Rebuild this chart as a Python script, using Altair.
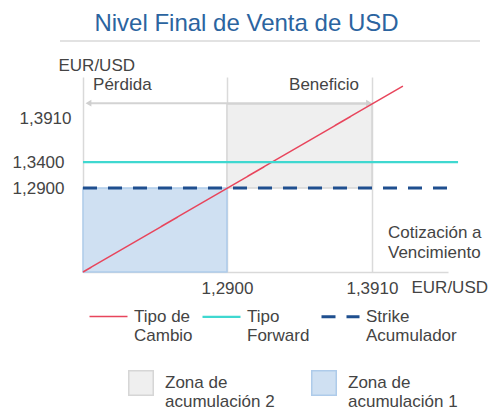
import altair as alt
import pandas as pd

FONT = "Liberation Sans"
TXT = "#444444"

# --- series (lines) ---
serie_nombres = ["Tipo de\nCambio", "Tipo\nForward", "Strike\nAcumulador"]
serie_colores = ["#e8455c", "#3fd8d0", "#1f4f8f"]
serie_dash = [[1, 0], [1, 0], [14, 11]]
serie_ancho = [1.5, 3, 3]
cambio_x = [1.1897, 1.4126]
cambio_y = [1.1897, 1.4126]
forward_x = [1.1897, 1.451]
forward_y = [1.34, 1.34]
strike_x = [1.1897, 1.4475]
strike_y = [1.29, 1.29]

# --- zones ---
zona_nombres = ["Zona de\nacumulación 2", "Zona de\nacumulación 1"]
zona_colores = ["#efefef", "#cfe0f2"]
zona_bordes = ["#d6d6d6", "#aecbea"]
zona_x = [1.29, 1.1897]
zona_x2 = [1.391, 1.29]
zona_y = [1.29, 1.1897]
zona_y2 = [1.391, 1.29]

# --- ticks ---
ticks_x = [1.29, 1.391]
ticks_y = [1.29, 1.34, 1.391]

# --- annotations ---
flecha_x = [1.1935, 1.389]
flecha_y = [1.392, 1.392]
flecha_forma = ["triangle-left", "triangle-right"]
perdida_texto = ["Pérdida"]
perdida_x = [1.1967]
perdida_y = [1.4139]
beneficio_texto = ["Beneficio"]
beneficio_x = [1.3820]
beneficio_y = [1.4139]
cotiz_texto = ["Cotización a\nVencimiento"]
cotiz_x = [1.4022]
cotiz_y = [1.2458]

lines_rows = []
for nombre, xs, ys in zip(serie_nombres, [cambio_x, forward_x, strike_x], [cambio_y, forward_y, strike_y]):
    for i, (xv, yv) in enumerate(zip(xs, ys)):
        lines_rows.append({"serie": nombre, "x": xv, "y": yv, "orden": i})
lines_df = pd.DataFrame(lines_rows)

zonas_df = pd.DataFrame({"zona": zona_nombres, "x": zona_x, "x2": zona_x2, "y": zona_y, "y2": zona_y2})
flecha_df = pd.DataFrame({"x": flecha_x, "y": flecha_y, "forma": flecha_forma})
flecha_line_df = pd.DataFrame({"x": [flecha_x[0]], "x2": [flecha_x[1]], "y": [flecha_y[0]]})
perdida_df = pd.DataFrame({"t": perdida_texto, "x": perdida_x, "y": perdida_y})
beneficio_df = pd.DataFrame({"t": beneficio_texto, "x": beneficio_x, "y": beneficio_y})
cotiz_df = pd.DataFrame({"t": cotiz_texto, "x": cotiz_x, "y": cotiz_y})

fmt = "replace(format(datum.value, '.4f'), '.', ',')"

xscale = alt.Scale(domain=[1.1897, 1.444], nice=False, zero=False)
yscale = alt.Scale(domain=[1.1897, 1.29, 1.34, 1.391, 1.4235], range=[195, 111, 85, 27, 0], nice=False, zero=False)

xaxis = alt.Axis(values=ticks_x, labelExpr=fmt, title="EUR/USD", titleX=328, titleY=15,
                 titleAlign="left", titleBaseline="middle", titleFont=FONT, titleFontSize=17,
                 titleFontWeight="normal", titleColor=TXT, ticks=False, tickSize=0, labelPadding=8,
                 labelFlush=False, labelFont=FONT, labelFontSize=17, labelColor=TXT,
                 grid=True, gridColor="#dadada", gridWidth=1.5, domainColor="#d9d9d9", domainWidth=1.5)
yaxis = alt.Axis(values=ticks_y, labelExpr=fmt, title="EUR/USD", titleAngle=0, titleX=-25, titleY=-12,
                 titleAlign="left", titleBaseline="middle", titleFont=FONT, titleFontSize=17,
                 titleFontWeight="normal", titleColor=TXT, ticks=False, tickSize=0,
                 labelPadding={"condition": {"test": "datum.value > 1.38", "value": 12}, "value": 19},
                 labelOffset={"condition": {"test": "datum.value > 1.38", "value": 14}, "value": 0},
                 labelFlush=False, labelFont=FONT, labelFontSize=17, labelColor=TXT,
                 grid=False, domainColor="#d9d9d9", domainWidth=1.5)

legend1 = alt.Legend(title=None, orient="none", legendX=5, legendY=219, direction="horizontal", columns=3,
                     symbolType="stroke", symbolSize=1444, labelExpr="split(datum.label, '\\n')",
                     labelFont=FONT, labelFontSize=17, labelColor=TXT, labelOffset=5, columnPadding=5,
                     labelLimit=300, padding=0)
legend2 = alt.Legend(title=None, orient="none", legendX=45, legendY=293, direction="horizontal", columns=2,
                     symbolType="square", symbolSize=600, symbolStrokeWidth=1.5,
                     labelExpr="split(datum.label, '\\n')",
                     labelFont=FONT, labelFontSize=17, labelColor=TXT, labelOffset=11, columnPadding=33,
                     labelLimit=300, padding=0)

zonas = alt.Chart(zonas_df).mark_rect(strokeWidth=1.5).encode(
    x=alt.X("x:Q", scale=xscale, axis=xaxis),
    x2="x2:Q",
    y=alt.Y("y:Q", scale=yscale, axis=yaxis),
    y2="y2:Q",
    fill=alt.Fill("zona:N", scale=alt.Scale(domain=zona_nombres, range=zona_colores), legend=legend2),
    stroke=alt.Stroke("zona:N", scale=alt.Scale(domain=zona_nombres, range=zona_bordes), legend=legend2),
)

flecha_linea = alt.Chart(flecha_line_df).mark_rule(color="#d3d3d3", strokeWidth=2).encode(
    x="x:Q", x2="x2:Q", y="y:Q")
flecha_puntas = alt.Chart(flecha_df).mark_point(filled=True, color="#cfcfcf", size=45, opacity=1).encode(
    x="x:Q", y="y:Q", shape=alt.Shape("forma:N", scale=None))

lineas = alt.Chart(lines_df).mark_line(clip=False).encode(
    x="x:Q", y="y:Q",
    color=alt.Color("serie:N", scale=alt.Scale(domain=serie_nombres, range=serie_colores), legend=legend1),
    strokeDash=alt.StrokeDash("serie:N", scale=alt.Scale(domain=serie_nombres, range=serie_dash), legend=legend1),
    strokeWidth=alt.StrokeWidth("serie:N", scale=alt.Scale(domain=serie_nombres, range=serie_ancho), legend=legend1),
    order="orden:Q",
)

txt_perdida = alt.Chart(perdida_df).mark_text(align="left", baseline="middle",
                                              font=FONT, fontSize=17, color=TXT).encode(
    x="x:Q", y="y:Q", text="t:N")
txt_beneficio = alt.Chart(beneficio_df).mark_text(align="right", baseline="middle",
                                                  font=FONT, fontSize=17, color=TXT).encode(
    x="x:Q", y="y:Q", text="t:N")
txt_cotiz = alt.Chart(cotiz_df).mark_text(align="left", baseline="top", lineBreak="\n", lineHeight=20,
                                          font=FONT, fontSize=17, color=TXT).encode(
    x="x:Q", y="y:Q", text="t:N")

separador = alt.Chart(beneficio_df).mark_rule(color="#d8d8d8", strokeWidth=1.5).encode(
    x=alt.value(-23), x2=alt.value(397), y=alt.value(-36))

chart = alt.layer(zonas, flecha_linea, flecha_puntas, lineas, txt_perdida, txt_beneficio, txt_cotiz,
                  separador).properties(
    width=365, height=195,
    autosize=alt.AutoSizeParams(type="none"),
    padding={"left": 75, "top": 69, "right": 41, "bottom": 140},
    title=alt.TitleParams(text="Nivel Final de Venta de USD", font=FONT, fontSize=24, fontWeight="normal",
                          color="#2b64a0", anchor="middle", dx=-19),
).configure_view(stroke=None)

chart.save("out.html", embed_options={"renderer": "svg", "actions": False})
